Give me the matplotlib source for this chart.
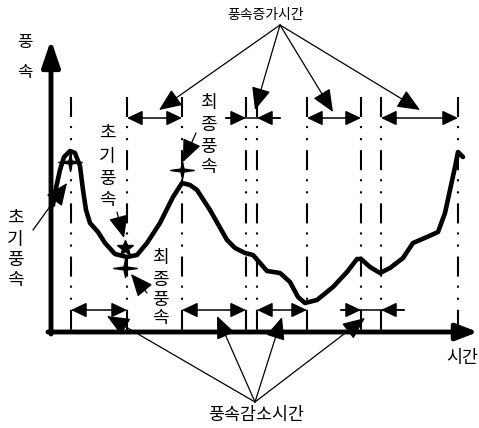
import matplotlib
matplotlib.use("Agg")
import matplotlib.pyplot as plt
from matplotlib.path import Path

plt.rcParams['font.family'] = ['Noto Sans CJK KR', 'DejaVu Sans']
plt.rcParams['lines.scale_dashes'] = False

# wind speed curve (time, speed)
time = [3, 6, 10, 14, 20, 25, 30, 33, 36, 40, 48, 55, 65, 77, 87, 97, 110, 123,
        132, 140, 147, 160, 177, 185, 195, 203, 210, 217, 230, 240, 248, 255,
        267, 283, 297, 307, 311, 320, 330, 340, 353, 363, 377, 388, 395, 400,
        405, 408, 413]
speed = [127, 144, 162, 175, 181, 179, 166, 142, 122, 109, 100, 89, 78, 75, 77,
         89, 109, 135, 149, 147, 142, 122, 92, 84, 79, 77, 69, 61, 59, 50, 35,
         29, 32, 45, 60, 73, 73, 65, 59, 64, 74, 89, 95, 100, 119, 142, 165,
         180, 175]

# dash-dot guide lines
guides = [21, 77, 132, 196, 207, 257, 311, 331, 408]
guide_top = 235

# increase periods (upper row) and decrease periods (lower row)
inc_periods = [(77, 132), (257, 311), (331, 408)]
inc_inward = [(196, 207)]
dec_periods = [(21, 77), (132, 196), (207, 257)]
dec_inward = [(311, 331)]
inc_row = 214
dec_row = 22

# initial / final wind speed marks
cross_t = [20, 75, 132]
cross_v = [170, 64, 162]
star_t = [75]
star_v = [84]

fig = plt.figure(figsize=(4.79, 4.28), dpi=100)
ax = fig.add_axes([0, 0, 1, 1])
ax.set_xlim(-50, 429)
ax.set_ylim(-96, 332)
ax.axis('off')

# axes with arrow heads
ax.annotate('', xy=(1, 292), xytext=(1, -2),
            arrowprops=dict(arrowstyle='-|>,head_length=1.6,head_width=0.55',
                            mutation_scale=10, lw=3.5, color='black',
                            shrinkA=0, shrinkB=0))
ax.annotate('', xy=(428, 0), xytext=(-2, 0),
            arrowprops=dict(arrowstyle='-|>,head_length=1.3,head_width=0.5',
                            mutation_scale=10, lw=3.5, color='black',
                            shrinkA=0, shrinkB=0))

dashdot = (0, (14.4, 6.5, 1.5, 7.2, 1.5, 7.2))
for g in guides:
    ax.plot([g, g], [guide_top, 0], color='black', lw=1.5, linestyle=dashdot,
            dash_capstyle='butt')

ax.plot(time, speed, color='black', lw=3.3, solid_joinstyle='round',
        solid_capstyle='round')

head = 'head_length=0.95,head_width=0.45'


def double_arrow(a, b, row):
    ax.annotate('', xy=(b, row), xytext=(a, row),
                arrowprops=dict(arrowstyle='<|-|>,' + head, mutation_scale=10,
                                lw=1.1, color='black', shrinkA=0, shrinkB=0))


def inward_arrow(a, b, row):
    ax.plot([a - 20, b + 23], [row, row], color='black', lw=1.1)
    for start, end in [(a - 20, a), (b + 23, b)]:
        ax.annotate('', xy=(end, row), xytext=(start, row),
                    arrowprops=dict(arrowstyle='-|>,' + head, mutation_scale=10,
                                    lw=1.1, color='black', shrinkA=0, shrinkB=0))


for a, b in inc_periods:
    double_arrow(a, b, inc_row)
for a, b in inc_inward:
    inward_arrow(a, b, inc_row)
for a, b in dec_periods:
    double_arrow(a, b, dec_row)
for a, b in dec_inward:
    inward_arrow(a, b, dec_row)

# marks
star4 = Path([(1.3, 0), (0.16, 0.16), (0, 1), (-0.16, 0.16), (-1.3, 0),
              (-0.16, -0.16), (0, -1), (0.16, -0.16), (1.3, 0)],
             [Path.MOVETO] + [Path.LINETO] * 7 + [Path.CLOSEPOLY])
ax.plot(cross_t, cross_v, linestyle='none', marker=star4, markersize=17,
        color='black')
ax.plot(star_t, star_v, linestyle='none', marker='*', markersize=12,
        color='black')


def pointer(src, tip):
    ax.annotate('', xy=tip, xytext=src,
                arrowprops=dict(arrowstyle='-|>,head_length=1.4,head_width=0.6',
                                mutation_scale=10, lw=0.9, color='black',
                                shrinkA=0, shrinkB=0))


# labels pointing at the periods
for tip in [(109, 222), (205, 222), (283, 220), (370, 222)]:
    pointer((230, 307), tip)
for tip in [(57, 16), (167, 16), (232, 15), (315, 14)]:
    pointer((205, -70), tip)

pointer((-17, 102), (17, 149))
pointer((67, 120), (74, 94))
pointer((146, 199), (133, 170))
pointer((97, 39), (81, 58))


def vtext(t, vs, s, size=13):
    for ch, v in zip(s, vs):
        ax.text(t, v, ch, ha='center', va='center', fontsize=size)


vtext(-25, [290, 260], '풍속', size=12)
vtext(-35, [114, 92, 72, 52], '초기풍속')
vtext(57, [199, 175, 153, 132], '초기풍속')
vtext(158, [229, 207, 185, 165], '최종풍속')
vtext(110, [74, 52, 32, 14], '최종풍속')

ax.text(216, 317, '풍속증가시간', ha='center', va='center', fontsize=10)
ax.text(206, -83, '풍속감소시간', ha='center', va='center', fontsize=12.5)
ax.text(412, -26, '시간', ha='center', va='center', fontsize=12.5)

fig.savefig('out.png', dpi=100)
